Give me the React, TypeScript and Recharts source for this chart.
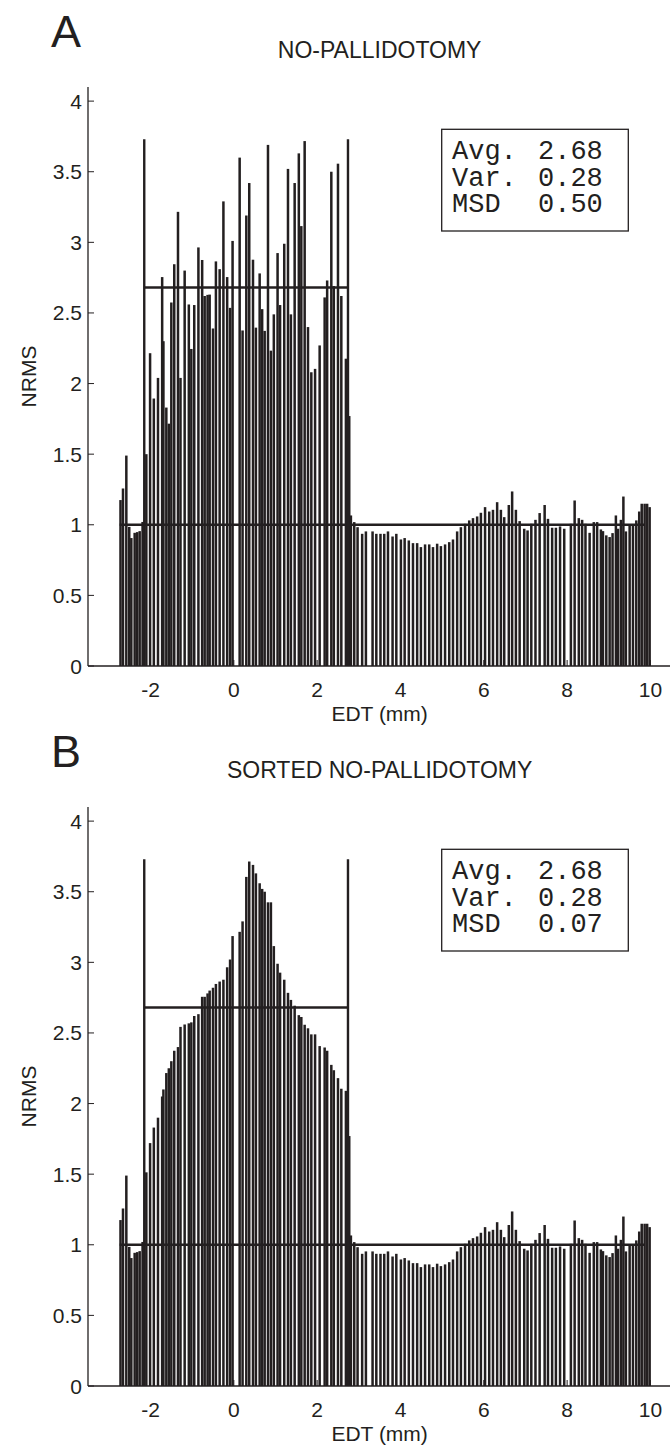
import { BarChart, Bar, XAxis, YAxis, ReferenceLine } from 'recharts';

// depth along the electrode track (mm) and normalised RMS of each recording site
const depthLeft = [-2.72, -2.66, -2.58, -2.51, -2.46, -2.38, -2.32, -2.26, -2.19];
const nrmsLeft = [1.175, 1.257, 1.49, 0.985, 0.906, 0.943, 0.948, 0.955, 1.02];

const depthMid = [
  -2.1, -2.01, -1.92, -1.82, -1.72, -1.69, -1.62, -1.56, -1.5, -1.43, -1.34, -1.28, -1.18, -1.08, -1.02,
  -0.95, -0.85, -0.76, -0.7, -0.63, -0.58, -0.5, -0.43, -0.34, -0.25, -0.16, -0.09, -0.03, 0.14, 0.21,
  0.3, 0.37, 0.46, 0.53, 0.62, 0.68, 0.74, 0.82, 0.89, 0.96, 1.05, 1.11, 1.21, 1.3, 1.37,
  1.46, 1.56, 1.62, 1.7, 1.78, 1.86, 1.95, 2.06, 2.18, 2.24, 2.34, 2.4, 2.5, 2.58, 2.69,
];
const nrmsMidA = [
  1.5, 2.215, 1.894, 2.04, 2.754, 2.3, 1.83, 1.716, 2.574, 2.845, 3.216, 2.04, 2.8, 2.56, 2.245,
  2.556, 2.964, 2.875, 2.62, 2.628, 2.63, 2.39, 2.865, 2.81, 3.29, 2.754, 2.536, 3.01, 3.6, 2.376,
  3.19, 3.42, 2.877, 2.396, 2.78, 2.527, 2.373, 3.69, 2.233, 2.49, 2.924, 2.556, 2.99, 3.52, 2.49,
  3.42, 3.63, 3.115, 3.717, 2.4, 2.08, 2.104, 2.27, 2.61, 2.73, 3.5, 2.69, 3.557, 2.62, 2.176,
];
const nrmsMidB = [
  1.513, 1.72, 1.83, 1.9, 2.05, 2.1, 2.216, 2.25, 2.3, 2.374, 2.4, 2.543, 2.56, 2.568, 2.575,
  2.62, 2.633, 2.756, 2.756, 2.78, 2.8, 2.82, 2.847, 2.864, 2.877, 2.965, 3.02, 3.186, 3.216, 3.29,
  3.605, 3.714, 3.69, 3.63, 3.56, 3.52, 3.5, 3.425, 3.425, 3.115, 2.99, 2.927, 2.877, 2.784, 2.734,
  2.693, 2.626, 2.613, 2.558, 2.533, 2.49, 2.49, 2.407, 2.397, 2.374, 2.274, 2.236, 2.18, 2.105, 2.09,
];

const depthRight = [
  2.77, 2.81, 2.89, 2.97, 3.08, 3.17, 3.33, 3.42, 3.52, 3.61, 3.7, 3.81, 3.9, 4.01, 4.1, 4.2, 4.3,
  4.4, 4.49, 4.59, 4.69, 4.78, 4.88, 4.97, 5.07, 5.17, 5.26, 5.36, 5.45, 5.55, 5.65, 5.74, 5.84, 5.93,
  6.03, 6.13, 6.22, 6.32, 6.41, 6.49, 6.6, 6.68, 6.77, 6.86, 6.97, 7.05, 7.14, 7.24, 7.34, 7.46, 7.54,
  7.64, 7.73, 7.83, 7.93, 8.09, 8.18, 8.28, 8.36, 8.44, 8.54, 8.64, 8.72, 8.81, 8.86, 8.94, 9.02, 9.09,
  9.17, 9.22, 9.29, 9.35, 9.41, 9.5, 9.58, 9.66, 9.73, 9.79, 9.86, 9.92, 9.98,
];
const nrmsRight = [
  1.77, 1.066, 1.019, 0.983, 0.936, 0.953, 0.953, 0.936, 0.936, 0.936, 0.953, 0.917, 0.936, 0.896, 0.906,
  0.889, 0.87, 0.87, 0.842, 0.861, 0.861, 0.842, 0.866, 0.849, 0.861, 0.877, 0.896, 0.953, 0.983, 1.007,
  1.031, 1.047, 1.059, 1.085, 1.125, 1.094, 1.106, 1.16, 1.106, 1.054, 1.14, 1.236, 1.106, 1.026, 0.972,
  0.96, 1.007, 1.035, 1.083, 1.14, 1.042, 0.979, 0.979, 0.988, 0.972, 1.007, 1.172, 1.047, 1.035, 1.007,
  0.943, 1.019, 1.019, 0.967, 0.955, 0.925, 0.913, 0.941, 1.066, 0.972, 1.035, 1.2, 0.953, 0.995, 0.995,
  1.031, 1.094, 1.149, 1.149, 1.149, 1.125,
];

const xTicks = [-2, 0, 2, 4, 6, 8, 10];
const yTicks = [0, 0.5, 1, 1.5, 2, 2.5, 3, 3.5, 4];

// marked region and reference levels
const regionStart = -2.15;
const regionEnd = 2.74;
const regionMean = 2.68;
const regionMax = 3.73;
const baseStart = -2.74;
const baseEnd = 9.86;
const baseLevel = 1;

const statLabels = ['Avg.', 'Var.', 'MSD'];
const statsA = ['2.68', '0.28', '0.50'];
const statsB = ['2.68', '0.28', '0.07'];

const INK = '#231f20';
const SANS = '"Liberation Sans", Arial, Helvetica, sans-serif';
const MONO = '"Liberation Mono", "Courier New", monospace';

const W = 680;
const H = 720;
const M = { top: 87, right: 8.7, left: 0, bottom: 0 };
const PLOT_LEFT = 88;
const PLOT_BOTTOM = 666;
const PLOT_RIGHT = W - M.right;
const BAR_W = 2.5;

function buildRows(mid: number[]) {
  const depth = [...depthLeft, ...depthMid, ...depthRight];
  const nrms = [...nrmsLeft, ...mid, ...nrmsRight];
  return depth.map((d, i) => ({ depth: d, nrms: nrms[i] }));
}

// the computed band is tiny where two sites sit close, so keep a fixed stroke width
const ThinBar = (props: any) => {
  const { x, y, width, height } = props;
  if (height == null || height <= 0) return null;
  return <rect x={x + width / 2 - BAR_W / 2} y={y} width={BAR_W} height={height} fill={INK} />;
};

const BottomTick = (props: any) => {
  const { x, y, payload } = props;
  return (
    <g>
      <line x1={x} y1={y} x2={x} y2={y - 6} stroke={INK} strokeWidth={1} />
      <text x={x} y={y + 31} textAnchor="middle" fontSize={21} fontFamily={SANS} fill={INK}>
        {payload.value}
      </text>
    </g>
  );
};

const TopTick = (props: any) => {
  const { x, y } = props;
  return <line x1={x} y1={y} x2={x} y2={y + 6} stroke={INK} strokeWidth={1} />;
};

const LeftTick = (props: any) => {
  const { x, y, payload } = props;
  return (
    <g>
      <line x1={x} y1={y} x2={x + 6} y2={y} stroke={INK} strokeWidth={1} />
      <text x={x - 6} y={y + 7.5} textAnchor="end" fontSize={21} fontFamily={SANS} fill={INK}>
        {payload.value}
      </text>
    </g>
  );
};

const RightTick = (props: any) => {
  const { x, y } = props;
  return <line x1={x} y1={y} x2={x - 6} y2={y} stroke={INK} strokeWidth={1} />;
};

function Panel({ mid, top }: { mid: number[]; top: number }) {
  const rows = buildRows(mid);
  return (
    <div style={{ position: 'absolute', left: 0, top, width: W, height: H }}>
      <BarChart width={W} height={H} data={rows} margin={M}>
        <XAxis
          dataKey="depth"
          type="number"
          domain={[-3.5, 10.5]}
          ticks={xTicks}
          allowDataOverflow
          height={54}
          tickSize={0}
          tickMargin={0}
          tick={<BottomTick />}
          tickLine={false}
          axisLine={{ stroke: INK, strokeWidth: 1.3 }}
        />
        <XAxis
          xAxisId="top"
          orientation="top"
          type="number"
          domain={[-3.5, 10.5]}
          ticks={xTicks}
          allowDataOverflow
          height={0}
          tickSize={0}
          tickMargin={0}
          tick={<TopTick />}
          tickLine={false}
          axisLine={{ stroke: INK, strokeWidth: 1.3 }}
        />
        <YAxis
          type="number"
          domain={[0, 4.1]}
          ticks={yTicks}
          allowDataOverflow
          width={PLOT_LEFT}
          tickSize={0}
          tickMargin={0}
          tick={<LeftTick />}
          tickLine={false}
          axisLine={{ stroke: INK, strokeWidth: 1.3 }}
        />
        <YAxis
          yAxisId="right"
          orientation="right"
          type="number"
          domain={[0, 4.1]}
          ticks={yTicks}
          allowDataOverflow
          width={0}
          tickSize={0}
          tickMargin={0}
          tick={<RightTick />}
          tickLine={false}
          axisLine={{ stroke: INK, strokeWidth: 1.3 }}
        />
        <Bar dataKey="nrms" fill={INK} shape={<ThinBar />} isAnimationActive={false} />
        <ReferenceLine
          segment={[{ x: baseStart, y: baseLevel }, { x: baseEnd, y: baseLevel }]}
          stroke={INK}
          strokeWidth={2.4}
        />
        <ReferenceLine
          segment={[{ x: regionStart, y: regionMean }, { x: regionEnd, y: regionMean }]}
          stroke={INK}
          strokeWidth={2.4}
        />
        <ReferenceLine
          segment={[{ x: regionStart, y: 0 }, { x: regionStart, y: regionMax }]}
          stroke={INK}
          strokeWidth={2.4}
        />
        <ReferenceLine
          segment={[{ x: regionEnd, y: 0 }, { x: regionEnd, y: regionMax }]}
          stroke={INK}
          strokeWidth={2.4}
        />
      </BarChart>
    </div>
  );
}

function Labels({ letter, title, stats, top }: { letter: string; title: string; stats: string[]; top: number }) {
  const cx = (PLOT_LEFT + PLOT_RIGHT) / 2;
  const cy = top + (M.top + PLOT_BOTTOM) / 2;
  return (
    <g>
      <text x={51} y={top + 47} fontSize={45} fontFamily={SANS} fill={INK}>
        {letter}
      </text>
      <text x={cx} y={top + 58} textAnchor="middle" fontSize={23} fontFamily={SANS} fill={INK}>
        {title}
      </text>
      <text x={cx} y={top + 721} textAnchor="middle" fontSize={21} fontFamily={SANS} fill={INK}>
        EDT (mm)
      </text>
      <text
        x={36}
        y={cy}
        transform={`rotate(-90 36 ${cy})`}
        textAnchor="middle"
        fontSize={21}
        fontFamily={SANS}
        fill={INK}
      >
        NRMS
      </text>
      <rect x={441.7} y={top + 129.3} width={186.6} height={101.7} fill="#fff" stroke={INK} strokeWidth={1.3} />
      {statLabels.map((lab, i) => (
        <g key={lab}>
          <text x={452} y={top + 159 + i * 26.7} fontSize={27} fontFamily={MONO} fill={INK}>
            {lab}
          </text>
          <text x={538} y={top + 159 + i * 26.7} fontSize={27} fontFamily={MONO} fill={INK}>
            {stats[i]}
          </text>
        </g>
      ))}
    </g>
  );
}

export default function App() {
  return (
    <div style={{ position: 'absolute', left: 0, top: 0, width: 670, height: 1452, overflow: 'hidden', background: '#fff' }}>
      <Panel mid={nrmsMidA} top={0} />
      <Panel mid={nrmsMidB} top={720} />
      <svg width={670} height={1452} style={{ position: 'absolute', left: 0, top: 0, pointerEvents: 'none' }}>
        <Labels letter="A" title="NO-PALLIDOTOMY" stats={statsA} top={0} />
        <Labels letter="B" title="SORTED NO-PALLIDOTOMY" stats={statsB} top={720} />
      </svg>
    </div>
  );
}
